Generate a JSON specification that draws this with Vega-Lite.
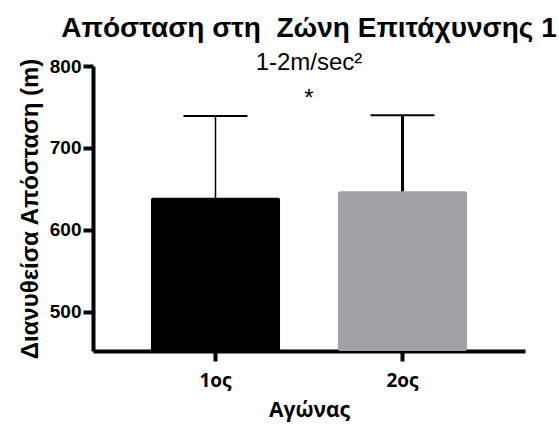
{
  "$schema": "https://vega.github.io/schema/vega-lite/v6.json",
  "autosize": "none",
  "width": 432,
  "height": 285,
  "padding": {"left": 93, "top": 66, "right": 34, "bottom": 79},
  "background": "white",
  "title": {
    "text": "Απόσταση στη\u00a0 Ζώνη Επιτάχυνσης 1",
    "subtitle": ["1-2m/sec²", "*"],
    "font": "Liberation Sans",
    "fontSize": 28,
    "fontWeight": "bold",
    "color": "black",
    "subtitleFont": "Liberation Sans",
    "subtitleFontSize": 24,
    "subtitleColor": "black",
    "subtitleLineHeight": 36,
    "subtitlePadding": 8,
    "anchor": "middle",
    "frame": "group",
    "offset": -54
  },
  "data": {
    "values": [
      {"game": "1ος", "mean": 639, "err": 739},
      {"game": "2ος", "mean": 647, "err": 740}
    ]
  },
  "encoding": {
    "x": {
      "field": "game",
      "type": "nominal",
      "sort": ["1ος", "2ος"],
      "scale": {"paddingInner": 0.31, "paddingOuter": 0.31},
      "axis": {
        "title": "Αγώνας",
        "labelAngle": 0,
        "labelFont": "Open Sans",
        "labelFontWeight": "bold",
        "labelFontSize": 19,
        "labelColor": "black",
        "labelPadding": 10,
        "titleFont": "Open Sans",
        "titleFontWeight": "bold",
        "titleFontSize": 21,
        "titleColor": "black",
        "titlePadding": 9,
        "domainColor": "black",
        "domainWidth": 4,
        "tickColor": "black",
        "tickWidth": 4,
        "tickSize": 10,
        "grid": false
      }
    }
  },
  "layer": [
    {
      "mark": {"type": "bar", "cornerRadius": 2},
      "encoding": {
        "y": {
          "field": "mean",
          "type": "quantitative",
          "scale": {"domain": [452, 800], "nice": false, "zero": false},
          "axis": {
            "title": "Διανυθείσα Απόσταση (m)",
            "values": [500, 600, 700, 800],
            "labelFont": "Liberation Sans",
            "labelFontWeight": "bold",
            "labelFontSize": 19,
            "labelColor": "black",
            "labelPadding": 2,
            "titleFont": "Liberation Sans",
            "titleFontWeight": "bold",
            "titleFontSize": 24,
            "titleColor": "black",
            "titlePadding": 7,
            "domainColor": "black",
            "domainWidth": 4,
            "tickColor": "black",
            "tickWidth": 4,
            "tickSize": 10,
            "grid": false
          }
        },
        "y2": {"datum": 452},
        "color": {
          "field": "game",
          "type": "nominal",
          "scale": {"domain": ["1ος", "2ος"], "range": ["#000000", "#a2a1a6"]},
          "legend": null
        }
      }
    },
    {
      "mark": {"type": "rule", "color": "black"},
      "encoding": {
        "y": {"field": "mean", "type": "quantitative"},
        "y2": {"field": "err"},
        "strokeWidth": {
          "field": "game",
          "type": "nominal",
          "scale": {"domain": ["1ος", "2ος"], "range": [1.5, 3]},
          "legend": null
        }
      }
    },
    {
      "mark": {"type": "tick", "color": "black", "size": 64, "opacity": 1},
      "encoding": {
        "y": {"field": "err", "type": "quantitative"},
        "strokeWidth": {
          "field": "game",
          "type": "nominal",
          "scale": {"domain": ["1ος", "2ος"], "range": [1.5, 3]},
          "legend": null
        }
      }
    }
  ],
  "config": {
    "view": {"stroke": null},
    "tick": {"thickness": 2}
  }
}
